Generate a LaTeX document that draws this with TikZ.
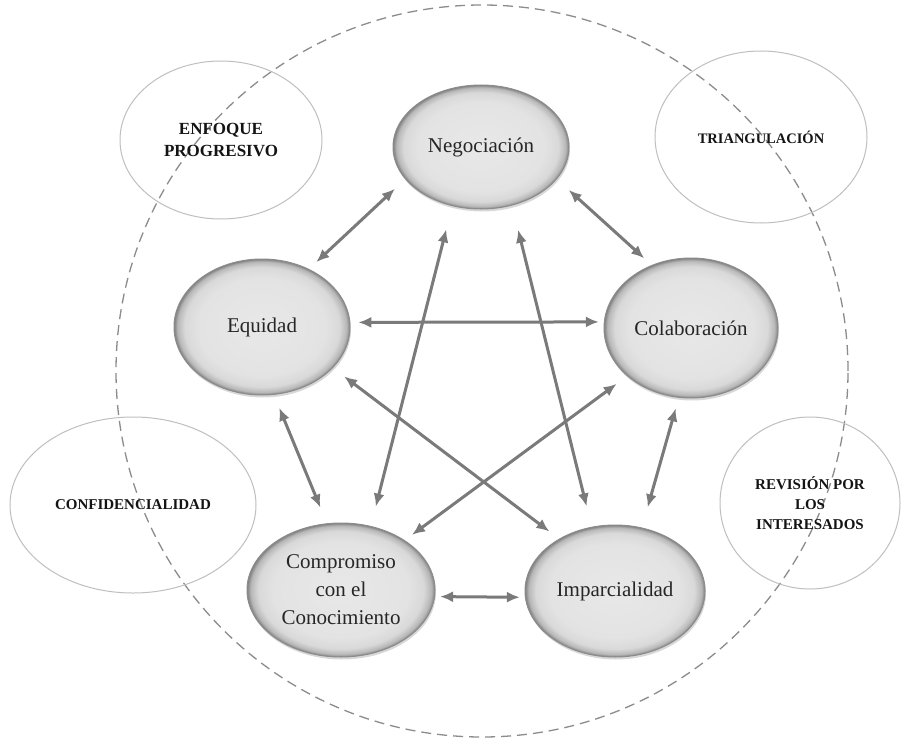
\documentclass[tikz,border=0pt]{standalone}
\usepackage{fontspec}
\setmainfont{Liberation Serif}
\usetikzlibrary{shapes.geometric,arrows.meta,shadows}

% light gray fill that darkens only close to the rim
\pgfdeclareradialshading{rimshade}{\pgfpoint{0bp}{0bp}}{%
  color(0bp)=(black!9); color(18bp)=(black!11); color(22bp)=(black!15);
  color(24bp)=(black!28); color(25bp)=(black!50); color(50bp)=(black!50)}

\definecolor{arrowgray}{RGB}{122,122,122}

\tikzset{
  core/.style={ellipse, draw=black!45, line width=1pt, inner sep=0pt,
    shade, shading=rimshade, text=black!85, align=center,
    font=\fontsize{21}{28}\selectfont,
    drop shadow={shadow xshift=1pt, shadow yshift=-2.5pt, opacity=0.3}},
  outl/.style={ellipse, draw=black!25, line width=1pt, inner sep=0pt,
    align=center, text=black!92, font=\bfseries\fontsize{15}{20}\selectfont},
  link/.style={draw=arrowgray, line width=3pt,
    {Latex[length=13pt,width=11pt]}-{Latex[length=13pt,width=11pt]}},
  ring/.style={draw=black!45, line width=1.3pt, dash pattern=on 10pt off 6pt}
}

\begin{document}
\begin{tikzpicture}[x=1pt,y=-1pt]
  \useasboundingbox[fill=white] (0,0) rectangle (901,738);

  % surrounding dashed boundary
  \draw[ring] (482,371) circle[radius=366pt];

  % outer principles
  \node[outl, minimum width=202pt, minimum height=158pt,
        font=\bfseries\fontsize{17}{22}\selectfont] (enf) at (221,140) {ENFOQUE\\PROGRESIVO};
  \node[outl, minimum width=212pt, minimum height=172pt,
        font=\bfseries\fontsize{14.5}{20}\selectfont] (tri) at (761,137) {TRIANGULACIÓN};
  \node[outl, minimum width=246pt, minimum height=176pt] (conf) at (133,505) {CONFIDENCIALIDAD};
  \node[outl, minimum width=180pt, minimum height=172pt] (rev) at (810,503) {REVISIÓN POR\\LOS\\INTERESADOS};

  % core values
  \node[core, minimum width=176pt, minimum height=124pt] (neg)  at (481,147) {Negociación};
  \node[core, minimum width=176pt, minimum height=136pt] (equ)  at (262,327) {Equidad};
  \node[core, minimum width=174pt, minimum height=140pt] (col)  at (691,328) {Colaboración};
  \node[core, minimum width=188pt, minimum height=134pt] (comp) at (341,590) {Compromiso\\con el\\Conocimiento};
  \node[core, minimum width=180pt, minimum height=132pt] (imp)  at (615,591) {Imparcialidad};

  % two-way relations
  \draw[link, shorten <=14pt, shorten >=10pt] (neg.203) -- (equ.51);
  \draw[link, shorten <=16pt, shorten >=10pt] (neg.337) -- (col.122);
  \draw[link, shorten <=8pt,  shorten >=5pt]  (equ.3)   -- (col.176);
  \draw[link, shorten <=14pt, shorten >=17pt] (equ.280) -- (comp.102);
  \draw[link, shorten <=11pt, shorten >=21pt] (col.260) -- (imp.67);
  \draw[link, shorten <=5pt,  shorten >=5pt]  (comp.356) -- (imp.184);
  \draw[link, shorten <=24pt, shorten >=20pt] (neg.244) -- (comp.65);
  \draw[link, shorten <=25pt, shorten >=21pt] (neg.298) -- (imp.110);
  \draw[link, shorten <=14pt, shorten >=12pt] (equ.330) -- (imp.137);
  \draw[link, shorten <=13pt, shorten >=9pt]  (col.217) -- (comp.38);
\end{tikzpicture}
\end{document}
